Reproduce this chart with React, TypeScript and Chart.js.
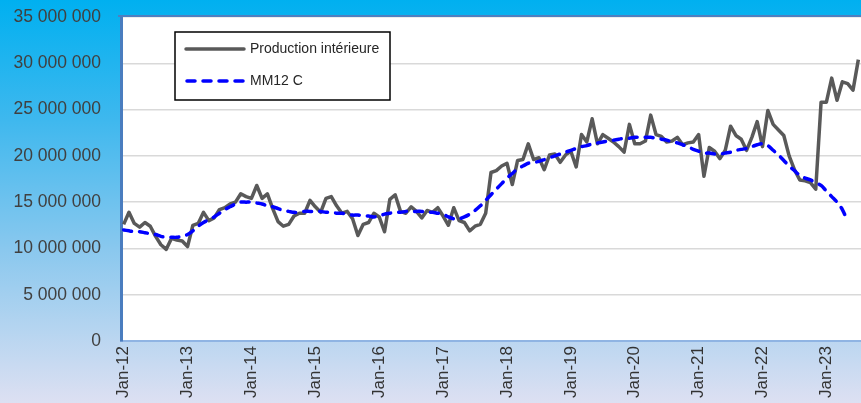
import React, { useEffect, useRef } from 'react';
import { Chart, registerables } from 'chart.js';

Chart.register(...registerables);

// Monthly categories Jan-12 .. Jul-23
const monthNames = ['Jan', 'Feb', 'Mar', 'Apr', 'May', 'Jun', 'Jul', 'Aug', 'Sep', 'Oct', 'Nov', 'Dec'];
const yearNames = ['12', '13', '14', '15', '16', '17', '18', '19', '20', '21', '22', '23'];
const monthCount = 139;
const categories: string[] = [];
for (let i = 0; i < monthCount; i++) {
  categories.push(`${monthNames[i % 12]}-${yearNames[Math.floor(i / 12)]}`);
}

// Production intérieure, millions
const production = [
  12.6, 13.9, 12.7, 12.3, 12.8, 12.4, 11.3, 10.4, 9.9, 11.1, 10.9, 10.8,
  10.2, 12.5, 12.7, 13.9, 13.0, 13.3, 14.2, 14.4, 14.8, 15.0, 15.9, 15.6,
  15.4, 16.8, 15.4, 15.9, 14.3, 12.9, 12.4, 12.6, 13.5, 13.8, 13.8, 15.2,
  14.5, 13.9, 15.4, 15.6, 14.6, 13.8, 14.0, 13.2, 11.4, 12.6, 12.8, 13.8,
  13.4, 11.8, 15.3, 15.8, 14.0, 13.8, 14.5, 14.0, 13.3, 14.1, 13.9, 14.4,
  13.5, 12.5, 14.4, 13.0, 12.8, 11.9, 12.4, 12.6, 13.8, 18.2, 18.4, 18.9,
  19.2, 16.9, 19.5, 19.6, 21.3, 19.6, 19.8, 18.5, 20.1, 20.2, 19.3, 20.1,
  20.5, 18.8, 22.3, 21.5, 24.0, 21.3, 22.3, 21.9, 21.5, 21.0, 20.4, 23.4,
  21.3, 21.3, 21.6, 24.4, 22.3, 22.1, 21.5, 21.6, 22.0, 21.2, 21.4, 21.5,
  22.3, 17.8, 20.9, 20.5, 19.7, 20.6, 23.2, 22.2, 21.8, 20.6, 22.0, 23.7,
  21.0, 24.9, 23.4, 22.8, 22.2, 20.0, 18.5, 17.4, 17.3, 17.1, 16.4, 25.8,
  25.8, 28.4, 26.0, 28.0, 27.8, 27.1, 30.4,
];

// MM12 C (centred 12-month moving average), millions
const mm12c: (number | null)[] = [
  12.0, 11.9, 11.8, 11.8, 11.7, 11.6, 11.5, 11.3, 11.2, 11.2, 11.2, 11.3,
  11.5, 11.9, 12.4, 12.8, 13.1, 13.4, 13.8, 14.2, 14.5, 14.8, 15.0, 15.0,
  15.0, 14.9, 14.8, 14.6, 14.5, 14.3, 14.1, 14.0, 13.9, 13.9, 14.0, 14.0,
  14.0, 14.0, 13.9, 13.9, 13.8, 13.8, 13.7, 13.6, 13.6, 13.5, 13.5, 13.4,
  13.5, 13.7, 13.8, 13.9, 13.9, 14.0, 14.0, 14.0, 14.0, 13.9, 13.9, 13.8,
  13.7, 13.4, 13.2, 13.2, 13.4, 13.7, 14.1, 14.6, 15.2, 15.8, 16.4, 17.0,
  17.6, 18.1, 18.6, 18.9, 19.2, 19.3, 19.4, 19.6, 19.8, 20.0, 20.2, 20.4,
  20.6, 20.8, 21.0, 21.1, 21.3, 21.4, 21.5, 21.6, 21.7, 21.8, 21.9, 21.9,
  22.0, 22.0, 22.0, 22.0, 21.9, 21.8, 21.7, 21.5, 21.4, 21.2, 21.0, 20.7,
  20.5, 20.3, 20.3, 20.2, 20.2, 20.3, 20.4, 20.6, 20.7, 20.8, 21.0, 21.2,
  21.3, 21.1, 20.6, 20.1, 19.5, 18.9, 18.4, 17.9, 17.6, 17.4, 17.1, 16.8,
  16.2, 15.6, 15.0, 14.2, 12.9, null, null,
];

const yTicks = [0, 5000000, 10000000, 15000000, 20000000, 25000000, 30000000, 35000000];
const seriesNames = ['Production intérieure', 'MM12 C'];

const fmt = (v: number) => String(Math.round(v)).replace(/\B(?=(\d{3})+(?!\d))/g, ' ');

const plotFramePlugin = {
  id: 'plotFrame',
  beforeDraw(chart: any) {
    const { ctx, chartArea } = chart;
    ctx.save();
    ctx.fillStyle = '#ffffff';
    ctx.fillRect(chartArea.left, chartArea.top, chartArea.right - chartArea.left, chartArea.bottom - chartArea.top);
    ctx.restore();
  },
  afterDraw(chart: any) {
    const { ctx, chartArea } = chart;
    ctx.save();
    ctx.strokeStyle = '#4f7fc0';
    ctx.lineWidth = 2;
    ctx.beginPath();
    ctx.moveTo(chartArea.left - 3, chartArea.top - 1);
    ctx.lineTo(chartArea.right, chartArea.top - 1);
    ctx.stroke();

    // legend box
    const lx = chartArea.left + 54;
    const ly = chartArea.top + 15;
    const lw = 215;
    const lh = 68;
    ctx.fillStyle = '#ffffff';
    ctx.fillRect(lx, ly, lw, lh);
    ctx.strokeStyle = '#000000';
    ctx.lineWidth = 1.5;
    ctx.strokeRect(lx, ly, lw, lh);

    const y1 = ly + 17;
    const y2 = ly + 49;
    ctx.lineCap = 'round';
    ctx.lineWidth = 3.5;
    ctx.strokeStyle = '#595959';
    ctx.beginPath();
    ctx.moveTo(lx + 11, y1);
    ctx.lineTo(lx + 69, y1);
    ctx.stroke();

    ctx.strokeStyle = '#0000ff';
    ctx.setLineDash([8, 8]);
    ctx.beginPath();
    ctx.moveTo(lx + 12, y2);
    ctx.lineTo(lx + 69, y2);
    ctx.stroke();
    ctx.setLineDash([]);

    ctx.fillStyle = '#262626';
    ctx.font = '14px "Liberation Sans", Arial, sans-serif';
    ctx.textBaseline = 'middle';
    ctx.textAlign = 'left';
    ctx.fillText(seriesNames[0], lx + 75, y1);
    ctx.fillText(seriesNames[1], lx + 75, y2);
    ctx.restore();
  },
};

export default function App() {
  const canvasRef = useRef<HTMLCanvasElement | null>(null);

  useEffect(() => {
    document.body.style.margin = '0';
    const canvas = canvasRef.current;
    if (!canvas) return;
    Chart.defaults.font.family = '"Liberation Sans", Arial, sans-serif';
    const chart = new Chart(canvas, {
      type: 'line',
      data: {
        labels: categories,
        datasets: [
          {
            label: seriesNames[0],
            data: production.map((v) => v * 1000000),
            borderColor: '#595959',
            borderWidth: 3.5,
            pointRadius: 0,
            tension: 0,
            borderJoinStyle: 'round',
            order: 2,
          },
          {
            label: seriesNames[1],
            data: mm12c.map((v) => (v === null ? null : v * 1000000)),
            borderColor: '#0000ff',
            borderWidth: 3.5,
            borderDash: [8, 8],
            borderCapStyle: 'round',
            pointRadius: 0,
            tension: 0.3,
            order: 1,
          },
        ],
      },
      options: {
        animation: false,
        responsive: false,
        devicePixelRatio: 1,
        layout: { padding: 0 },
        plugins: {
          legend: { display: false },
          tooltip: { enabled: false },
        },
        scales: {
          x: {
            type: 'category',
            offset: true,
            grid: { display: false, drawTicks: false },
            border: { display: true, color: '#8fb4e3', width: 2 },
            ticks: {
              autoSkip: false,
              minRotation: 90,
              maxRotation: 90,
              padding: 5,
              color: '#333333',
              font: { size: 17 },
              callback: (_v: any, i: number) => (i % 12 === 0 ? categories[i] : ''),
            },
            afterFit: (scale: any) => {
              scale.height = 62;
              scale.paddingLeft = 0;
              scale.paddingRight = 0;
            },
          },
          y: {
            min: 0,
            max: 35000000,
            afterBuildTicks: (scale: any) => {
              scale.ticks = yTicks.map((v) => ({ value: v }));
            },
            grid: { color: '#d9d9d9', lineWidth: 1.5, drawTicks: false },
            border: { display: true, color: '#4a7dbf', width: 3 },
            ticks: {
              padding: 20,
              color: '#404040',
              font: { size: 17.5 },
              callback: (v: any) => fmt(Number(v)),
            },
            afterFit: (scale: any) => {
              scale.width = 121;
              scale.paddingTop = 17;
              scale.paddingBottom = 0;
            },
          },
        },
      },
      plugins: [plotFramePlugin],
    });
    return () => chart.destroy();
  }, []);

  return (
    <div
      style={{
        width: 861,
        height: 403,
        position: 'relative',
        overflow: 'hidden',
        background: 'linear-gradient(to bottom, #00b0f0 0%, #3fb8ee 30%, #8ac8ee 62%, #dde0f2 100%)',
      }}
    >
      <canvas ref={canvasRef} width={861} height={403} style={{ display: 'block' }} />
    </div>
  );
}
